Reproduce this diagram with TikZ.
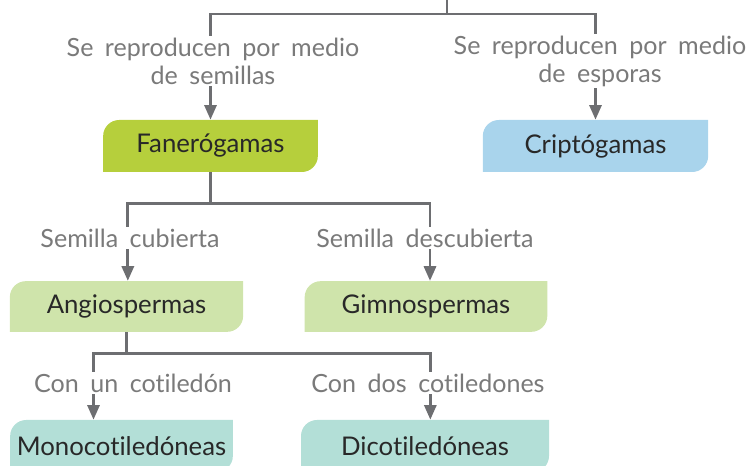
\documentclass[tikz,border=0pt]{standalone}
\usepackage{fontspec}
\setmainfont[Ligatures=NoCommon]{Lato}
\newfontfamily\lblfont[WordSpace=1.8,Ligatures=NoCommon]{Lato}
\usepackage{tikz}
\usetikzlibrary{arrows.meta}
\definecolor{lineGray}{RGB}{109,110,113}
\definecolor{lblGray}{RGB}{122,122,122}
\definecolor{boxText}{RGB}{40,40,40}
\definecolor{fanGreen}{RGB}{182,207,60}
\definecolor{cripBlue}{RGB}{169,212,236}
\definecolor{spermGreen}{RGB}{207,228,171}
\definecolor{cotTeal}{RGB}{179,223,215}

\begin{document}
\begin{tikzpicture}[x=0.75pt,y=-0.75pt,
  conn/.style={draw=lineGray,line width=2.2pt,-{Triangle[length=11pt,width=9pt]}},
  link/.style={draw=lineGray,line width=2.2pt},
  lbl/.style={fill=white,inner sep=1pt,align=center,text=lblGray,font=\lblfont\fontsize{18.8}{21}\selectfont},
  plantbox/.style={minimum height=39pt,inner sep=0pt,text=boxText,font=\fontsize{19.3}{22}\selectfont,
    path picture={\fill[#1] (path picture bounding box.south west)
      -- ([yshift=-12pt]path picture bounding box.north west)
      arc[start angle=180,end angle=90,radius=12pt]
      -- (path picture bounding box.north east)
      -- ([yshift=12pt]path picture bounding box.south east)
      arc[start angle=0,end angle=-90,radius=12pt] -- cycle;}}]
\useasboundingbox (0,0) rectangle (751,466);
\clip (0,0) rectangle (751,466);

% boxes
\node[plantbox=fanGreen,minimum width=161pt] (fan) at (210.5,146) {Fanerógamas};
\node[plantbox=cripBlue,minimum width=169pt] (crip) at (595.5,146) {Criptógamas};
\node[plantbox=spermGreen,minimum width=175pt,minimum height=38pt] (angio) at (126.5,306.5) {Angiospermas};
\node[plantbox=spermGreen,minimum width=182pt,minimum height=38pt] (gimno) at (426,306.5) {Gimnospermas};
\node[plantbox=cotTeal,minimum width=167pt] (mono) at (121.5,446) {Monocotiledóneas};
\node[plantbox=cotTeal,minimum width=186pt] (dico) at (425,446) {Dicotiledóneas};

% connectors
\coordinate (root) at (447,0);
\coordinate (split) at (447,14);
\draw[link] (root) -- (split);
\draw[conn] (split) -| (fan);
\draw[conn] (split) -| (crip);
\draw[conn] (fan.south) -- ++(0,31) -| ([xshift=1pt]angio.north);
\draw[conn] (fan.south) -- ++(0,31) -| ([xshift=3pt]gimno.north);
\draw[conn] (angio.south) -- ++(0,21) -| ([xshift=-21pt]mono.north);
\draw[conn] (angio.south) -- ++(0,21) -| ([xshift=4pt]dico.north);

% labels
\node[lbl] (lSem) at (213,61) {Se reproducen por medio\\de semillas};
\node[lbl] (lEsp) at (600,61) {Se reproducen por medio\\de esporas};
\node[lbl] (lCub) at (130,238) {Semilla cubierta};
\node[lbl] (lDes) at (425,238) {Semilla descubierta};
\node[lbl] (lUn) at (133,383) {Con un cotiledón};
\node[lbl] (lDos) at (428,383) {Con dos cotiledones};
\end{tikzpicture}
\end{document}
